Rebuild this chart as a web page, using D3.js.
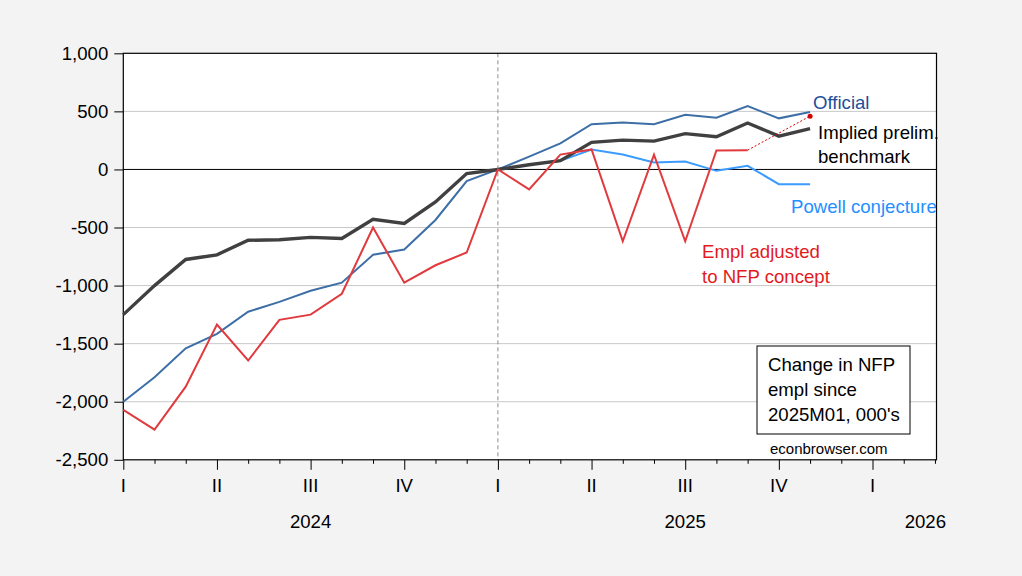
<!DOCTYPE html>
<html>
<head>
<meta charset="utf-8">
<script src="https://cdn.jsdelivr.net/npm/d3@7"></script>
<style>
  body { margin: 0; background: #f3f3f3; }
  svg { display: block; font-family: "Liberation Sans", Arial, sans-serif; }
</style>
</head>
<body>
<div class="chart"></div>
<script>
// months 2024M01 .. 2025M11
let months = ["2024M01","2024M02","2024M03","2024M04","2024M05","2024M06","2024M07","2024M08","2024M09","2024M10","2024M11","2024M12",
              "2025M01","2025M02","2025M03","2025M04","2025M05","2025M06","2025M07","2025M08","2025M09","2025M10","2025M11"]

let official = [-2000,-1790,-1540,-1415,-1225,-1140,-1045,-975,-735,-690,-435,-100,
                0,110,225,390,405,390,470,445,545,440,495]
let implied = [-1250,-1000,-775,-735,-610,-605,-585,-595,-430,-465,-280,-35,
               0,40,75,233,252,244,308,282,400,287,352]
let emplAdj = [-2070,-2240,-1870,-1335,-1645,-1295,-1250,-1070,-500,-975,-825,-715,
               0,-172,128,172,-618,128,-618,164,166,null,null]
let emplAdjExt = [null,null,null,null,null,null,null,null,null,null,null,null,
                  null,null,null,null,null,null,null,null,166,null,459]
let powell = [null,null,null,null,null,null,null,null,null,null,null,null,
              0,40,74,172,129,60,68,-12,31,-127,-127]

let yTicks = [-2500,-2000,-1500,-1000,-500,0,500,1000]
let quarterLabels = ["I","II","III","IV"]
let years = ["2024","2025","2026"]

let W = 1022, H = 576
let mLeft = 123.3, mRight = 936.5, mTop = 53.3, mBottom = 459.8
let fs = "18.6px"

let svg = d3.select(".chart")
    .append("svg")
    .attr("width", W)
    .attr("height", H)
    .style("background", "#f3f3f3")

// scales
let x = d3.scaleLinear().domain([0, 26.05]).range([mLeft, mRight])
let y = d3.scaleLinear().domain([-2500, 1000]).range([mBottom, mTop])

svg.append("rect")
    .attr("x", mLeft).attr("y", mTop)
    .attr("width", mRight - mLeft).attr("height", mBottom - mTop)
    .attr("fill", "#fff")

// gridlines
svg.append("g")
    .selectAll("line")
    .data(yTicks.filter(d => d != 0 && d != 1000 && d != -2500))
    .join("line")
    .attr("x1", mLeft).attr("x2", mRight)
    .attr("y1", d => y(d)).attr("y2", d => y(d))
    .attr("stroke", "#c8c8c8").attr("stroke-width", 1)

svg.append("line")
    .attr("x1", mLeft).attr("x2", mRight)
    .attr("y1", y(0)).attr("y2", y(0))
    .attr("stroke", "#000").attr("stroke-width", 1)

// vertical dashed line at 2025M01
svg.append("line")
    .attr("x1", x(12)).attr("x2", x(12))
    .attr("y1", mTop).attr("y2", mBottom)
    .attr("stroke", "#8c8c8c").attr("stroke-width", 1)
    .attr("stroke-dasharray", "4,3")

// y axis
let fmt = d3.format(",")
let yAxis = d3.axisLeft(y).tickValues(yTicks)
    .tickFormat(d => fmt(d).replace("\u2212", "-"))
    .tickSize(9).tickPadding(6)
let ya = svg.append("g").attr("transform", "translate(" + mLeft + ",0)").call(yAxis)
ya.select(".domain").remove()
ya.selectAll("text").style("font-size", fs).attr("fill", "#000")
ya.selectAll("line").attr("stroke", "#000")

// x axis ticks (monthly, quarters longer)
let monthTicks = d3.range(0, 27)
let xAxis = d3.axisBottom(x).tickValues(monthTicks).tickFormat("")
    .tickSize(0)
let xa = svg.append("g").attr("transform", "translate(0," + mBottom + ")").call(xAxis)
xa.select(".domain").remove()
xa.selectAll(".tick line")
    .attr("y2", d => d % 3 == 0 ? 10 : 4)
    .attr("stroke", "#000")

svg.append("g")
    .selectAll("text")
    .data(monthTicks.filter(d => d % 3 == 0))
    .join("text")
    .attr("x", d => x(d))
    .attr("y", 492)
    .attr("text-anchor", "middle")
    .style("font-size", fs)
    .text(d => quarterLabels[(d / 3) % 4])

svg.append("g")
    .selectAll("text")
    .data(years)
    .join("text")
    .attr("x", (d, i) => i < 2 ? x(6 + 12 * i) : 946)
    .attr("y", 528)
    .attr("text-anchor", (d, i) => i < 2 ? "middle" : "end")
    .style("font-size", fs)
    .text(d => d)

// frame
svg.append("rect")
    .attr("x", mLeft).attr("y", mTop)
    .attr("width", mRight - mLeft).attr("height", mBottom - mTop)
    .attr("fill", "none").attr("stroke", "#000").attr("stroke-width", 1.2)

// lines
let line = d3.line()
    .defined(d => d != null)
    .x((d, i) => x(i))
    .y(d => y(d))

let plot = svg.append("g")

plot.append("path")
    .attr("fill", "none").attr("stroke", "#3d6fa6").attr("stroke-width", 2)
    .attr("d", line(official))

plot.append("path")
    .attr("fill", "none").attr("stroke", "#3b9bff").attr("stroke-width", 2)
    .attr("d", line(powell))

plot.append("path")
    .attr("fill", "none").attr("stroke", "#404040").attr("stroke-width", 3.4)
    .attr("d", line(implied))

plot.append("path")
    .attr("fill", "none").attr("stroke", "#e03a3e").attr("stroke-width", 2)
    .attr("d", line(emplAdj))

let ext = emplAdjExt.map((d, i) => [i, d]).filter(d => d[1] != null)
plot.append("path")
    .attr("fill", "none").attr("stroke", "#d40000").attr("stroke-width", 1)
    .attr("stroke-dasharray", "2,2")
    .attr("d", d3.line().x(d => x(d[0])).y(d => y(d[1]))(ext))

plot.append("circle")
    .attr("cx", x(ext[ext.length - 1][0])).attr("cy", y(ext[ext.length - 1][1]))
    .attr("r", 2.5).attr("fill", "#d40000")

// labels
let labels = svg.append("g").style("font-size", fs)

labels.append("text").attr("x", 813).attr("y", 109).attr("fill", "#1f4e9a").text("Official")
labels.append("text").attr("x", 818).attr("y", 139).attr("fill", "#000").text("Implied prelim.")
labels.append("text").attr("x", 818).attr("y", 163).attr("fill", "#000").text("benchmark")
labels.append("text").attr("x", 791).attr("y", 213).attr("fill", "#1e8fff").text("Powell conjecture")
labels.append("text").attr("x", 702).attr("y", 258).attr("fill", "#e31a1c").text("Empl adjusted")
labels.append("text").attr("x", 702).attr("y", 283).attr("fill", "#e31a1c").text("to NFP concept")

// note box
svg.append("rect")
    .attr("x", 757).attr("y", 346).attr("width", 153).attr("height", 88)
    .attr("fill", "#fff").attr("stroke", "#000").attr("stroke-width", 1)

let note = ["Change in NFP", "empl since", "2025M01, 000's"]
svg.append("g")
    .selectAll("text")
    .data(note)
    .join("text")
    .attr("x", 768)
    .attr("y", (d, i) => 371 + i * 25)
    .style("font-size", fs)
    .text(d => d)

svg.append("text")
    .attr("x", 770).attr("y", 454)
    .style("font-size", "15px")
    .text("econbrowser.com")
</script>
</body>
</html>
